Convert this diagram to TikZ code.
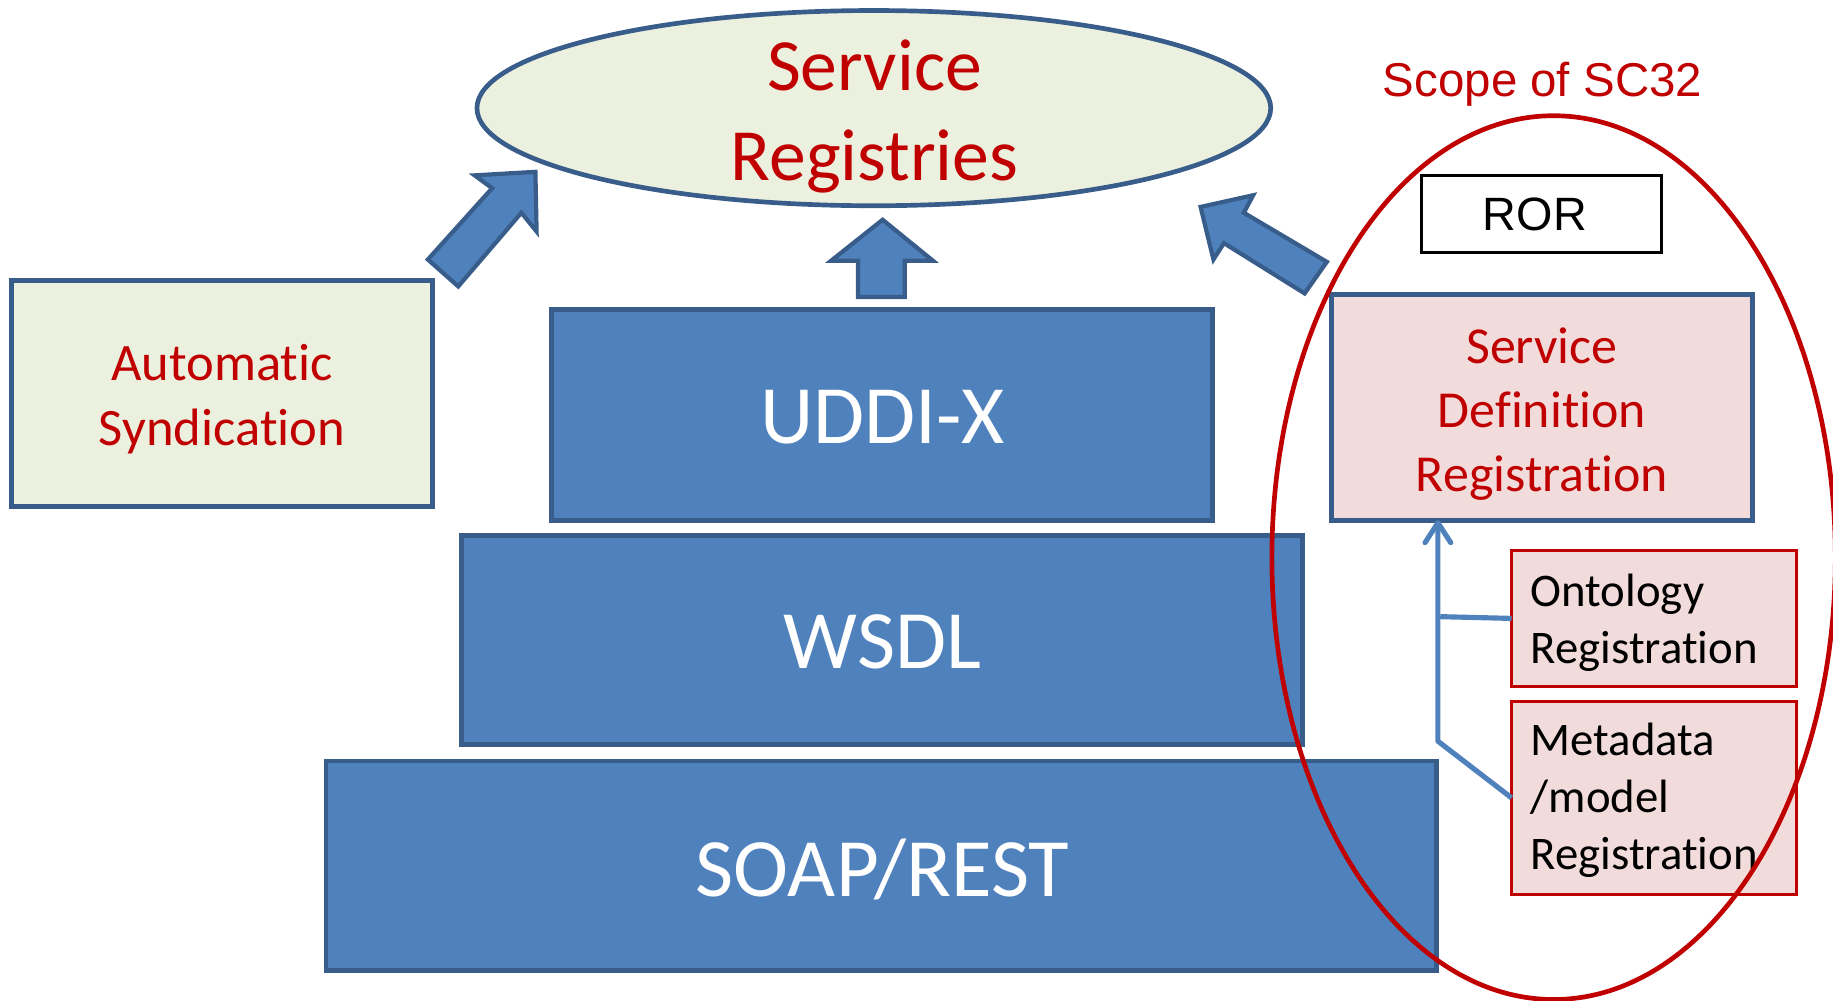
\documentclass[tikz,border=0pt]{standalone}
\usepackage{fontspec}
\setmainfont{Carlito}[Ligatures={NoCommon}]
\newfontfamily\arialfont{Liberation Sans}
\usetikzlibrary{fit,arrows.meta,shapes.geometric}
\definecolor{blueFill}{HTML}{4F81BD}
\definecolor{blueLine}{HTML}{385D8A}
\definecolor{paleGreen}{HTML}{EBF1DE}
\definecolor{palePink}{HTML}{F2DCDB}
\definecolor{darkRed}{HTML}{C00000}
\begin{document}
\begin{tikzpicture}[x=0.5pt,y=-0.5pt,
  box/.style={rectangle, inner sep=0pt, outer sep=0pt},
  layer/.style={box, draw=blueLine, fill=blueFill, line width=2pt},
  greenbox/.style={box, draw=blueLine, fill=paleGreen, line width=2pt},
  pinkbox/.style={box, draw=blueLine, fill=palePink, line width=2pt},
  subbox/.style={box, draw=darkRed, fill=palePink, line width=1.2pt},
  rorbox/.style={box, draw=black, fill=white, line width=1.2pt},
  layertext/.style={text=white, font=\fontsize{35.5}{40}\selectfont, inner sep=0pt},
  redtext/.style={text=darkRed, align=center, inner sep=0pt},
  blacktext/.style={text=black, align=left, inner sep=0pt, anchor=west},
  blockarrow/.style={draw=blueLine, fill=blueFill, line width=1.8pt, line join=miter},
  conn/.style={draw=blueFill, line width=2.2pt, line join=round},
]
\useasboundingbox (0,0) rectangle (1568,856);
% top ellipse
\node[ellipse, draw=blueLine, fill=paleGreen, line width=2pt,
      minimum width=339.5pt, minimum height=83.5pt, inner sep=0pt] (sr) at (747.5,92.5) {};
\node[redtext, font=\fontsize{31.5}{38.5}\selectfont] (srlabel) at (748,100) {Service\\Registries};
% left box
\node[greenbox, fit={(10,240) (370,433)}] (auto) {};
\node[redtext, font=\fontsize{22.5}{27.5}\selectfont] (autolabel) at (190,341.5) {Automatic\\Syndication};
% stack of layers
\node[layer, fit={(472,265) (1037,445)}] (uddi) {};
\node[layertext] (uddilabel) at (755,357) {UDDI-X};
\node[layer, fit={(395,458) (1114,637)}] (wsdl) {};
\node[layertext] (wsdllabel) at (755,549) {WSDL};
\node[layer, fit={(279,651) (1229,830)}] (soap) {};
\node[layertext] (soaplabel) at (755,743.5) {SOAP/REST};
% block arrows
\draw[blockarrow] (458,147) -- (406,150) -- (421,161) -- (366,222) -- (392,245) -- (446,182) -- (459,198) -- cycle;
\draw[blockarrow] (755,188) -- (798,223) -- (774,223) -- (774,254) -- (734,254) -- (734,223) -- (711,223) -- cycle;
\draw[blockarrow] (1027,177) -- (1072,167) -- (1064,182) -- (1135,224) -- (1116,251) -- (1047,208) -- (1038,222) -- cycle;
% right side
\node[rorbox, fit={(1216,150) (1421,216)}] (ror) {};
\node[text=black, inner sep=0pt, font=\arialfont\fontsize{20}{24}\selectfont] (rorlabel) at (1313,183) {ROR};
\node[pinkbox, fit={(1139,252) (1499,445)}] (sdr) {};
\node[redtext, font=\fontsize{22.2}{27.3}\selectfont] (sdrlabel) at (1319,354) {Service\\Definition\\Registration};
\node[subbox, fit={(1293,471) (1537,587)}] (onto) {};
\node[blacktext, font=\fontsize{20}{24.5}\selectfont] (ontolabel) at (1309,532.5) {Ontology\\Registration};
\node[subbox, fit={(1293,600) (1537,765)}] (meta) {};
\node[blacktext, font=\fontsize{20}{24.3}\selectfont] (metalabel) at (1309,684.5) {Metadata\\/model\\Registration};
% connectors
\coordinate (cbend) at (1230,634);
\coordinate (hstart) at (1232,527.5);
\draw[conn, -{Straight Barb[length=8.5pt,width=11pt,line join=round,line cap=round]}] (meta.west) -- (cbend) -- (sdr.south -| cbend);
\draw[conn] (hstart) -- (onto.west);
% scope of SC32
\node[ellipse, draw=darkRed, line width=2pt, minimum width=241pt, minimum height=378pt, inner sep=0pt] (scope) at (1329,477) {};
\node[text=darkRed, inner sep=0pt, font=\arialfont\fontsize{20.3}{24}\selectfont] (scopelabel) at (1319.5,72.5) {Scope of SC32};
\end{tikzpicture}
\end{document}
